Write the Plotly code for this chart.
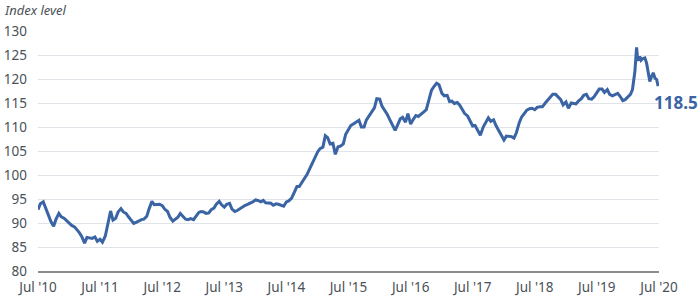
import pandas as pd
import plotly.graph_objects as go

# ---------------- data ----------------
start_date = "2010-07-01"
# semi-monthly readings (1st and 15th of each month), Jul 2010 -> mid Jan 2020
semimonthly_values = [
    92.8, 94.0, 94.4, 93.0, 91.3, 90.3, 89.3, 90.8, 92.0, 91.3,
    91.0, 90.5, 89.8, 89.5, 89.2, 88.7, 88.0, 87.2, 85.8, 87.0,
    86.9, 86.8, 87.1, 86.2, 86.6, 86.0, 87.3, 89.5, 92.5, 90.6,
    91.0, 92.3, 93.0, 92.3, 92.0, 91.3, 90.4, 89.9, 90.2, 90.5,
    90.7, 90.8, 91.4, 93.0, 94.5, 93.8, 93.8, 93.9, 93.6, 92.9,
    92.4, 91.2, 90.4, 90.7, 91.2, 92.0, 91.4, 90.8, 90.7, 90.9,
    90.7, 91.4, 92.2, 92.4, 92.3, 92.0, 92.1, 92.8, 93.1, 93.9,
    94.5, 93.8, 93.3, 93.9, 94.1, 92.9, 92.4, 92.6, 93.0, 93.4,
    93.7, 93.9, 94.1, 94.4, 94.8, 94.7, 94.4, 94.7, 94.2, 94.2,
    94.1, 93.7, 94.0, 93.9, 93.6, 93.5, 94.4, 94.6, 95.2, 96.3,
    97.6, 97.6, 98.4, 99.2, 100.2, 101.3, 102.5, 103.5, 104.8, 105.5,
    105.8, 108.2, 107.8, 106.5, 106.6, 104.3, 105.9, 106.0, 106.5, 108.5,
    109.6, 110.3, 110.7, 111.0, 111.4, 110.0, 110.0, 111.5, 112.4, 112.9,
    114.0, 115.9, 115.8, 114.3, 113.5, 112.6, 111.5, 110.4, 109.3, 110.4,
    111.7, 112.0, 111.0, 112.8, 110.6, 111.5, 112.4, 112.2, 112.8, 113.1,
    113.6, 115.5, 117.7, 118.4, 119.1, 118.8, 117.0, 116.5, 116.6, 115.3,
    115.4, 114.9, 115.1, 114.6, 113.5, 112.8, 112.3, 111.2, 110.2, 110.3,
    109.3, 108.3, 110.0, 111.0, 111.9, 111.2, 111.5, 110.3, 109.3, 108.2,
    107.3, 108.1, 108.0, 108.0, 107.7, 108.8, 110.9, 112.1, 112.8, 113.5,
    113.8, 113.9, 113.6, 114.1, 114.2, 114.2, 115.0, 115.6, 116.3, 116.8,
    116.8, 116.3, 115.7, 114.6, 115.2, 113.9, 115.0, 114.9, 114.8, 115.4,
    115.9, 116.6, 116.8, 115.9, 115.8, 116.3, 117.1, 117.9, 117.9, 117.2,
    117.8, 116.8, 116.5, 116.8, 117.0, 116.4, 115.5, 115.7, 116.2, 116.8,
]
# finer readings for 2020 (spike and decline)
tail_dates = [
    "2020-01-27", "2020-02-04", "2020-02-10", "2020-02-16", "2020-02-20",
    "2020-02-25", "2020-02-29", "2020-03-10", "2020-03-18", "2020-03-26",
    "2020-04-09", "2020-04-19", "2020-04-28", "2020-05-08", "2020-05-18",
    "2020-05-28", "2020-06-07", "2020-06-17", "2020-06-26",
]
tail_values = [
    117.8, 119.5, 121.5, 124.5, 126.6,
    124.8, 123.8, 124.7, 123.9, 124.2,
    124.4, 123.3, 121.6, 119.5, 120.5,
    121.3, 120.2, 119.9, 118.5,
]
tick_dates = ["2010-07-01", "2011-07-01", "2012-07-01", "2013-07-01", "2014-07-01",
              "2015-07-01", "2016-07-01", "2017-07-01", "2018-07-01", "2019-07-01",
              "2020-07-01"]
tick_labels = ["Jul '10", "Jul '11", "Jul '12", "Jul '13", "Jul '14", "Jul '15",
               "Jul '16", "Jul '17", "Jul '18", "Jul '19", "Jul '20"]
y_ticks = [80, 85, 90, 95, 100, 105, 110, 115, 120, 125, 130]
last_label = "118.5"
y_title = "Index level"

dates = list(pd.date_range(start_date, periods=len(semimonthly_values), freq="SMS")
             .strftime("%Y-%m-%d")) + tail_dates
values = semimonthly_values + tail_values

LINE = "#3A64A3"
GRAY = "#4a5158"
FONT = "Noto Sans"

fig = go.Figure()
fig.add_trace(go.Scatter(x=dates, y=values, mode="lines",
                         line=dict(color=LINE, width=3), hoverinfo="skip"))

fig.add_annotation(x=dates[-1], y=values[-1], text="<b>" + last_label + "</b>",
                   showarrow=False, xanchor="left", yanchor="top",
                   xshift=-6, yshift=-3,
                   font=dict(family=FONT, size=17, color=LINE))
fig.add_annotation(xref="paper", yref="paper", x=-0.058, y=1.088,
                   text="<i>" + y_title + "</i>", showarrow=False,
                   xanchor="left", yanchor="middle",
                   font=dict(family=FONT, size=13, color=GRAY))

fig.update_layout(
    width=700, height=302,
    margin=dict(l=38, r=41, t=31, b=31, autoexpand=False),
    plot_bgcolor="white", paper_bgcolor="white",
    showlegend=False,
    font=dict(family=FONT, size=13, color=GRAY),
    xaxis=dict(type="date", range=["2010-07-01", "2020-07-01"],
               tickvals=tick_dates, ticktext=tick_labels,
               showgrid=False, zeroline=False, automargin=False,
               showline=True, linecolor="#8c8c8c", linewidth=2,
               ticks="outside", ticklen=3, tickcolor="rgba(0,0,0,0)",
               tickfont=dict(family=FONT, size=13.5, color=GRAY)),
    yaxis=dict(range=[80, 130], tickvals=y_ticks, automargin=False,
               showgrid=True, gridcolor="#e0e3e8", gridwidth=1.4,
               zeroline=False, showline=False, ticks="",
               ticklabelstandoff=10,
               tickfont=dict(family=FONT, size=13.5, color=GRAY)),
)

fig.write_html("out.html")
